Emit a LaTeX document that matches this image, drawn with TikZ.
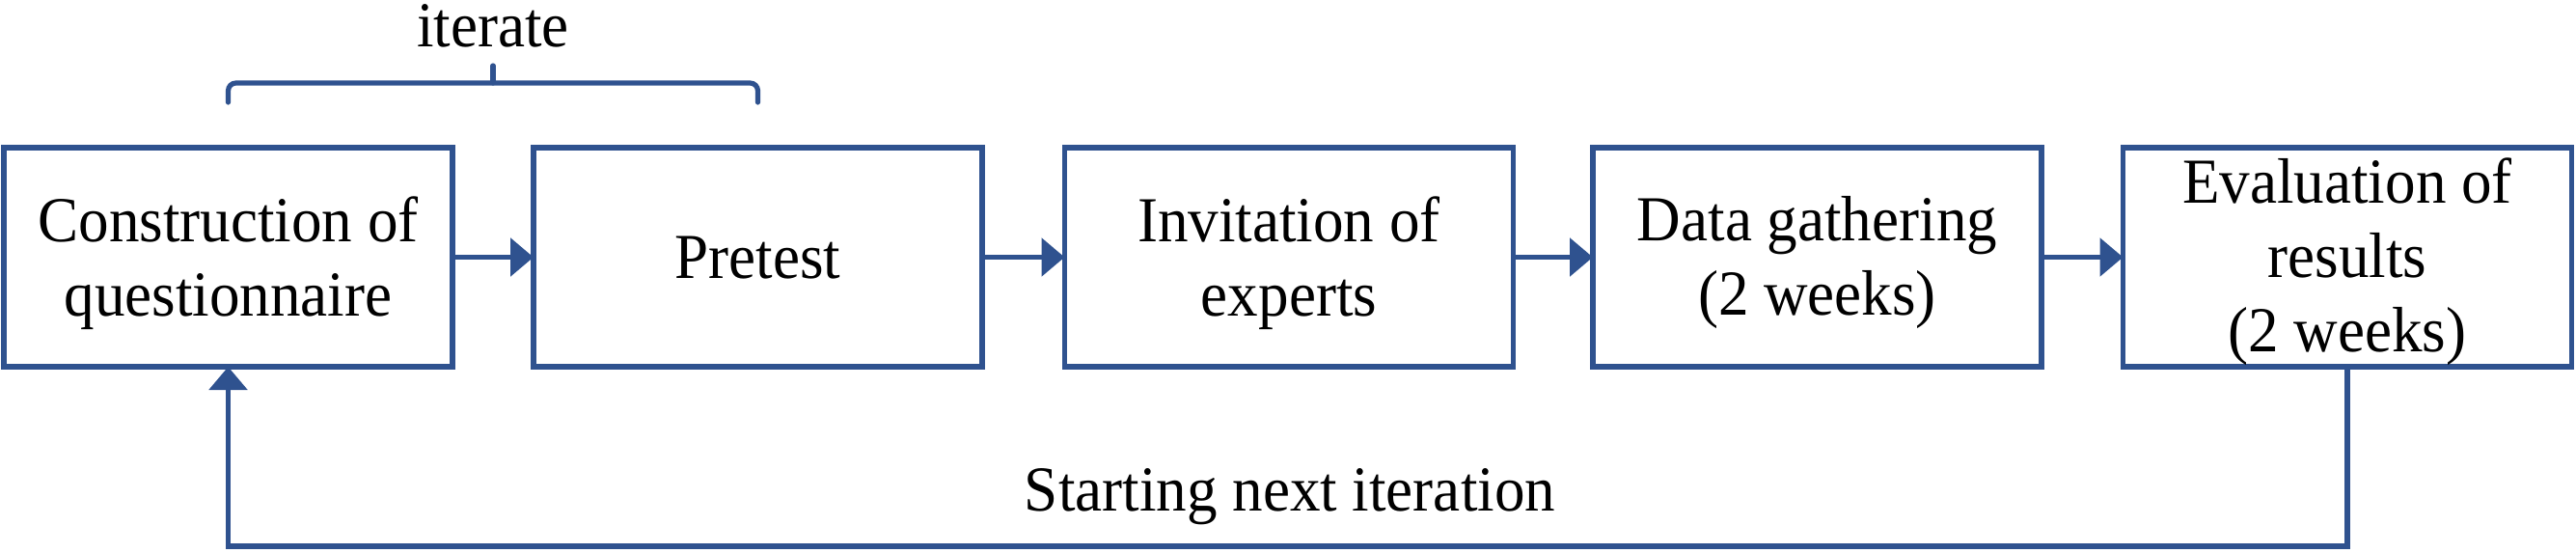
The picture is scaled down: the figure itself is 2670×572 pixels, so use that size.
\documentclass[tikz,border=0pt]{standalone}
\usepackage{fontspec}
\setmainfont{Liberation Serif}[FakeStretch=0.95]
\usetikzlibrary{arrows.meta}
\definecolor{linec}{RGB}{47,82,143}
\begin{document}
\begin{tikzpicture}[x=0.25pt,y=-0.25pt,
  stepbox/.style={draw=linec, line width=1.4pt, minimum width=116.25pt, minimum height=56.75pt, inner sep=0pt, outer sep=0pt},
  txt/.style={font=\fontsize{16.6}{19.25}\selectfont, align=center, inner sep=0pt, text=black},
  arr/.style={draw=linec, line width=1.4pt, -{Triangle[length=6pt,width=9.75pt]}},
  bline/.style={draw=linec, line width=1.3pt, line cap=round, rounded corners=2pt}]
\useasboundingbox (0,0) rectangle (2670,572);
% boxes
\node[stepbox] (b1) at (236.5,266.5) {};
\node[stepbox] (b2) at (785.5,266.5) {};
\node[stepbox] (b3) at (1336,266.5) {};
\node[stepbox] (b4) at (1883.5,266.5) {};
\node[stepbox] (b5) at (2433,266.5) {};
% texts
\node[txt] (t1) at (236.5,273.0) {Construction of\\questionnaire};
\node[txt, anchor=base] (t2) at (785.5,288) {Pretest};
\node[txt] (t3) at (1336,273.0) {Invitation of\\experts};
\node[txt] (t4) at (1883.5,271.7) {Data gathering\\(2 weeks)};
\node[txt] (t5) at (2433,271.2) {Evaluation of\\results\\(2 weeks)};
% arrows
\draw[arr] (b1.east) -- (b2.west);
\draw[arr] (b2.east) -- (b3.west);
\draw[arr] (b3.east) -- (b4.west);
\draw[arr] (b4.east) -- (b5.west);
% feedback
\coordinate (fb) at (1300,566);
\draw[arr] (b5.south) -- (b5.south |- fb) -- (b1.south |- fb) -- (b1.south);
\node[txt, anchor=base] (sn) at (1337,529) {Starting next iteration};
% brace
\coordinate (braceL) at (236.5,106);
\coordinate (braceR) at (785.5,106);
\coordinate (braceM) at (511,86);
\coordinate (braceTip) at (511,68);
\draw[bline] (braceL) -- (braceL |- braceM) -- (braceR |- braceM) -- (braceR);
\draw[bline] (braceM) -- (braceTip);
\node[txt, anchor=base] (it) at (511,48) {iterate};
\end{tikzpicture}
\end{document}
